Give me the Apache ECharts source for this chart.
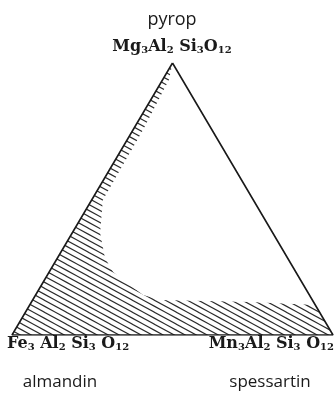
<!DOCTYPE html>
<html>
<head>
<meta charset="utf-8">
<script src="https://cdn.jsdelivr.net/npm/echarts@6/dist/echarts.min.js"></script>
<style>
  html, body { margin: 0; padding: 0; background: #fff; }
  #chart { width: 336px; height: 393px; }
</style>
</head>
<body>
<div id="chart"></div>
<script>
// end members (apex order: top, bottom left, bottom right)
const memberNames = ['pyrop', 'almandin', 'spessartin'];
const memberFormulas = [
  'Mg{s|3}Al{s|2} Si{s|3}O{s|12}',
  'Fe{s|3} Al{s|2} Si{s|3} O{s|12}',
  'Mn{s|3}Al{s|2} Si{s|3} O{s|12}'
];
// apexes as [Mg, Fe, Mn] in %
const apexMg = [100, 0, 0];
const apexFe = [0, 100, 0];
const apexMn = [0, 0, 100];

// inner boundary of the hatched field, from pyrop apex to the Mg-Mn side
const boundaryMg = [100, 93.8, 75.4, 49.6, 37.5, 28.3, 23.2, 19.1, 14.7, 12.9, 12.1, 11.0];
const boundaryMn = [0, 2.0, 3.1, 3.5, 8.7, 14.8, 19.9, 26.2, 33.5, 39.7, 68.0, 89.0];

// ternary -> cartesian (side = 100)
const toXY = (mg, mn) => [mn + mg / 2, mg * Math.sqrt(3) / 2];

const trianglePts = apexMg.map((mg, i) => toXY(mg, apexMn[i]));
trianglePts.push(trianglePts[0]);

const hatchPts = boundaryMg.map((mg, i) => toXY(mg, boundaryMn[i]));
hatchPts.push(toXY(0, 100));   // spessartin corner
hatchPts.push(toXY(0, 0));     // almandin corner

// hatch tile: parallel lines falling to the right, seamless repeat
const makeHatch = () => {
  const w = 22, h = 12, step = 11;
  const c = document.createElement('canvas');
  c.width = w; c.height = h;
  const ctx = c.getContext('2d');
  ctx.strokeStyle = '#2a2a2a';
  ctx.lineWidth = 1.1;
  for (let x0 = -2 * w; x0 <= 2 * w; x0 += step) {
    ctx.beginPath();
    ctx.moveTo(x0 - w, -h);
    ctx.lineTo(x0 + 2 * w, 2 * h);
    ctx.stroke();
  }
  return c;
};

const chart = echarts.init(document.getElementById('chart'));

const sansFont = '"Open Sans", sans-serif';
const serifFont = '"DejaVu Serif", serif';
const formulaRich = (size) => ({
  s: { fontSize: Math.round(size * 0.62), fontFamily: serifFont, fontWeight: 'bold',
       verticalAlign: 'bottom', lineHeight: 12, padding: [7, 0, 0, 0], fill: '#1a1a1a' }
});
const formulaStyle = (text, x, y, size, align) => ({
  type: 'text', x, y,
  style: {
    text, fontSize: size, fontFamily: serifFont, fontWeight: 'bold', fill: '#1a1a1a',
    align, verticalAlign: 'middle', rich: formulaRich(size)
  }
});

const option = {
  animation: false,
  grid: { left: 12, right: 3, top: 63, bottom: 58 },
  xAxis: { type: 'value', min: 0, max: 100, show: false },
  yAxis: { type: 'value', min: 0, max: 50 * Math.sqrt(3), show: false },
  series: [
    {
      type: 'custom',
      coordinateSystem: 'cartesian2d',
      silent: true,
      data: [0],
      renderItem: (params, api) => ({
        type: 'polygon',
        shape: { points: hatchPts.map(p => api.coord(p)) },
        style: { fill: { image: makeHatch(), repeat: 'repeat' }, stroke: null }
      }),
      z: 1
    },
    {
      type: 'line',
      data: trianglePts,
      symbol: 'none',
      silent: true,
      lineStyle: { color: '#1a1a1a', width: 1.6 },
      z: 2
    }
  ],
  graphic: [
    { type: 'text', x: 172, y: 20, style: { text: memberNames[0], font: '18px ' + sansFont, fill: '#1a1a1a', align: 'center', verticalAlign: 'middle' } },
    formulaStyle(memberFormulas[0], 172, 47, 16, 'center'),
    formulaStyle(memberFormulas[1], 7, 344, 16, 'left'),
    formulaStyle(memberFormulas[2], 334, 344, 16, 'right'),
    { type: 'text', x: 60, y: 382, style: { text: memberNames[1], font: '17px ' + sansFont, fill: '#1a1a1a', align: 'center', verticalAlign: 'middle' } },
    { type: 'text', x: 270, y: 382, style: { text: memberNames[2], font: '17px ' + sansFont, fill: '#1a1a1a', align: 'center', verticalAlign: 'middle' } }
  ]
};

chart.setOption(option);
</script>
</body>
</html>
